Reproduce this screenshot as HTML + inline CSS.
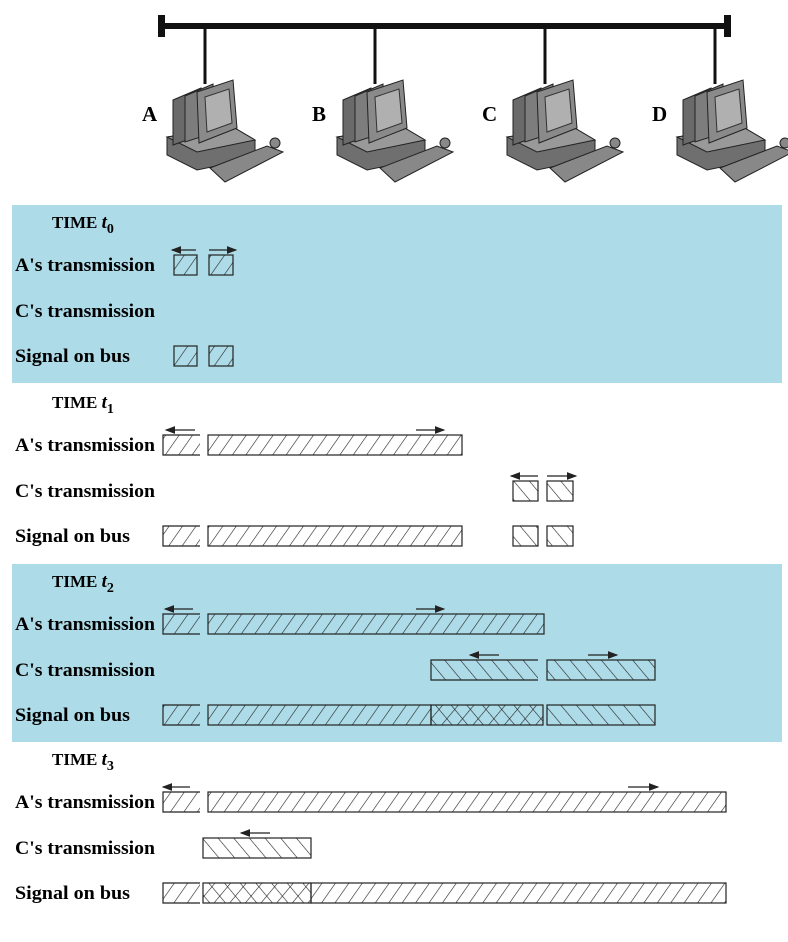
<!DOCTYPE html>
<html><head><meta charset="utf-8"><style>
html,body{margin:0;padding:0;background:#fff;}
svg{display:block;font-family:"Liberation Serif",serif;font-weight:bold;}
</style></head><body>
<svg id="s" width="788" height="942" viewBox="0 0 788 942">
<defs>
<pattern id="fwd" patternUnits="userSpaceOnUse" width="11" height="11" patternTransform="rotate(35)"><line x1="0" y1="0" x2="0" y2="11" stroke="#222" stroke-width="1.2"/></pattern>
<pattern id="bwd" patternUnits="userSpaceOnUse" width="12" height="12" patternTransform="rotate(-40)"><line x1="0" y1="0" x2="0" y2="12" stroke="#222" stroke-width="1.2"/></pattern>
<pattern id="crs2" patternUnits="userSpaceOnUse" width="12" height="12" patternTransform="rotate(40)"><line x1="0" y1="0" x2="0" y2="12" stroke="#222" stroke-width="1.2"/></pattern>
<marker id="ah" markerWidth="8" markerHeight="6" refX="7" refY="3" orient="auto"><path d="M0,0 L8,3 L0,6z" fill="#222"/></marker>
</defs>
<g>
<rect x="12" y="205" width="770" height="178" fill="#ADDBE8"/>
<rect x="12" y="564" width="770" height="178" fill="#ADDBE8"/>
</g>
<g>
<rect x="160" y="23" width="568" height="6" fill="#111"/>
<rect x="158" y="15" width="7" height="22" fill="#111"/>
<rect x="724" y="15" width="7" height="22" fill="#111"/>
</g>
<g id="hosts"></g>
<g id="rows"></g>
</svg>
<script>
const hostNames=["A","B","C","D"];
const hostX=[205,375,545,715];
const times=["0","1","2","3"];
const panelTop=[205,385,564,742];
const rowLabels=["A's transmission","C's transmission","Signal on bus"];
// segments: [panel,row,x0,x1,pattern,openRight]
const segments=[
[0,0,174,197,"fwd",0],[0,0,209,233,"fwd",0],[0,2,174,197,"fwd",0],[0,2,209,233,"fwd",0],
[1,0,163,200,"fwd",1],[1,0,208,462,"fwd",0],[1,1,513,538,"bwd",0],[1,1,547,573,"bwd",0],
[1,2,163,200,"fwd",1],[1,2,208,462,"fwd",0],[1,2,513,538,"bwd",0],[1,2,547,573,"bwd",0],
[2,0,163,200,"fwd",1],[2,0,208,544,"fwd",0],[2,1,431,538,"bwd",1],[2,1,547,655,"bwd",0],
[2,2,163,200,"fwd",1],[2,2,208,431,"fwd",0],[2,2,431,543,"crs",0],[2,2,547,655,"bwd",0],
[3,0,163,200,"fwd",1],[3,0,208,726,"fwd",0],[3,1,203,311,"bwd",0],
[3,2,163,200,"fwd",1],[3,2,203,311,"crs",0],[3,2,311,726,"fwd",0]
];
// arrows: [panel,row,x0,x1] (direction from x0 to x1)
const arrows=[
[0,0,196,172],[0,0,209,236],
[1,0,195,166],[1,0,416,444],[1,1,538,511],[1,1,547,576],
[2,0,193,165],[2,0,416,444],[2,1,499,470],[2,1,588,617],
[3,0,190,163],[3,0,628,658],[3,1,270,241]
];
const NS="http://www.w3.org/2000/svg";
function mk(t,a,p){const e=document.createElementNS(NS,t);for(const k in a)e.setAttribute(k,a[k]);p.appendChild(e);return e;}
const hosts=document.getElementById('hosts');
hostNames.forEach((n,i)=>{
 const x=hostX[i];
 const g=mk('g',{},hosts);
 
 
 mk('line',{x1:x,y1:28,x2:x,y2:84,stroke:'#111','stroke-width':3},g);
 // base
 mk('polygon',{points:`${x-38},137 ${x+28},127 ${x+50},140 ${x+50},158 ${x-8},170 ${x-38},155`,fill:'#6f6f6f',stroke:'#222'},g);
 mk('polygon',{points:`${x-38},137 ${x+28},127 ${x+50},140 ${x-8},152`,fill:'#999',stroke:'#222'},g);
 // tower/monitor
 mk('polygon',{points:`${x-32},100 ${x-4},88 ${x-4},135 ${x-32},145`,fill:'#6a6a6a',stroke:'#222'},g);
 mk('polygon',{points:`${x-20},96 ${x+8},84 ${x+8},133 ${x-20},142`,fill:'#7d7d7d',stroke:'#222'},g);
 mk('polygon',{points:`${x-8},92 ${x+28},80 ${x+32},128 ${x-6},143`,fill:'#8a8a8a',stroke:'#222'},g);
 mk('polygon',{points:`${x},97 ${x+24},89 ${x+27},123 ${x+2},132`,fill:'#b0b0b0',stroke:'#333'},g);
 // keyboard
 mk('polygon',{points:`${x+5},168 ${x+62},146 ${x+78},152 ${x+20},182`,fill:'#888',stroke:'#222'},g);
 mk('circle',{cx:x+70,cy:143,r:5,fill:'#888',stroke:'#222'},g);
 const t=mk('text',{x:x-63,y:121,'font-size':21},g);t.textContent=n;
 
 
});
const rows=document.getElementById('rows');
const rowOff=[60,106,151];
times.forEach((tm,p)=>{
 const top=panelTop[p];
 const t=mk('text',{x:52,y:top+23,'font-size':17},rows);
 
 
 t.innerHTML='TIME <tspan font-style="italic" font-size="19">t</tspan><tspan font-size="14" dy="5">'+tm+'</tspan>';
 rowLabels.forEach((l,r)=>{
  const lt=mk('text',{x:15,y:top+rowOff[r]+6,'font-size':19,textLength:l.length>14?140:115,lengthAdjust:'spacingAndGlyphs'},rows);
  lt.textContent=l;
  
  
 });
});
segments.forEach(s=>{
 const [p,r,x0,x1,pat,open]=s;
 const yc=panelTop[p]+rowOff[r];const y0=yc-10,y1=yc+10;
 const g=mk('g',{},rows);
 
 
 if(pat==='crs'){
  mk('rect',{x:x0,y:y0,width:x1-x0,height:20,fill:'url(#bwd)'},g);
  mk('rect',{x:x0,y:y0,width:x1-x0,height:20,fill:'url(#crs2)'},g);
 } else mk('rect',{x:x0,y:y0,width:x1-x0,height:20,fill:'url(#'+pat+')'},g);
 if(open){mk('path',{d:`M${x1},${y0} H${x0} V${y1} H${x1}`,fill:'none',stroke:'#222','stroke-width':1.2},g);}
 else mk('rect',{x:x0,y:y0,width:x1-x0,height:20,fill:'none',stroke:'#222','stroke-width':1.2},g);
});
arrows.forEach(a=>{
 const [p,r,x0,x1]=a;const y=panelTop[p]+rowOff[r]-15;
 const l=mk('line',{x1:x0,y1:y,x2:x1,y2:y,stroke:'#222','stroke-width':1.3,'marker-end':'url(#ah)'},rows);
 
 
});
</script>
</body></html>
